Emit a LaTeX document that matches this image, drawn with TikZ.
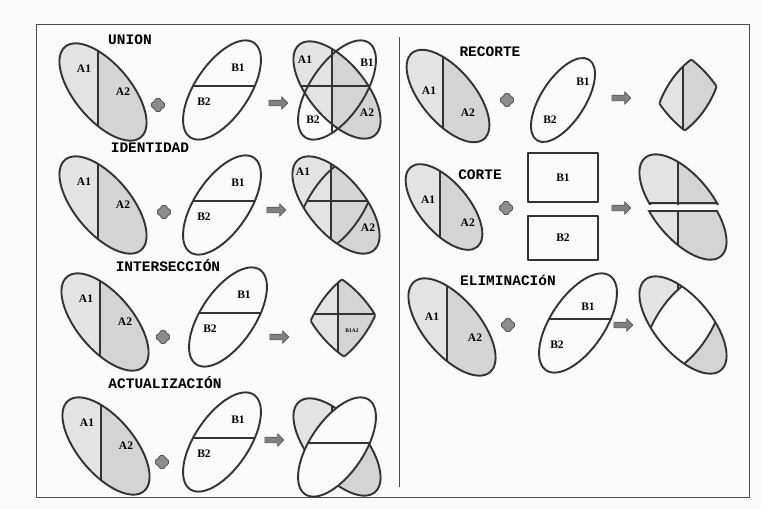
\documentclass[tikz,border=0pt]{standalone}
\usepackage{fontspec}
\setmainfont{Liberation Serif}
\newfontfamily\titlefont{Liberation Mono}
\usetikzlibrary{shapes.arrows}

\colorlet{paper}{gray!4}
\colorlet{shadeone}{gray!22}
\colorlet{shadetwo}{gray!34}

% layer outlines, centred on (0,0)
\newcommand{\ellA}{(0,0) ellipse [x radius=59pt, y radius=28pt, rotate=-50]}
\newcommand{\ellB}{(0,0) ellipse [x radius=57pt, y radius=27pt, rotate=56]}
\newcommand{\ellC}{(0,0) ellipse [x radius=48pt, y radius=22pt, rotate=57]}
\newcommand{\cutA}{(-5,-70) -- (-5,70)}
\newcommand{\cutB}{(-70,-4) -- (70,-4)}
\newcommand{\shadeA}{%
  \fill[shadeone] (-70,-70) rectangle (-5,70);
  \fill[shadetwo] (-5,-70) rectangle (70,70);}

% input layer A: [scale]{centre}{prefix}{A1 at}{A2 at}
\newcommand{\operandA}[5][1]{%
  \begin{scope}[shift={(#2)}, scale=#1]
    \begin{scope} \clip \ellA; \shadeA \draw[edge] \cutA; \end{scope}
    \draw[edge] \ellA;
    \node[lab] (#3A1) at (#4) {A1};
    \node[lab] (#3A2) at (#5) {A2};
  \end{scope}}
% input layer B: {centre}{prefix}{B1 at}{B2 at}
\newcommand{\operandB}[4]{%
  \begin{scope}[shift={(#1)}]
    \fill[paper] \ellB;
    \begin{scope} \clip \ellB; \draw[edge] \cutB; \end{scope}
    \draw[edge] \ellB;
    \node[lab] (#2B1) at (#3) {B1};
    \node[lab] (#2B2) at (#4) {B2};
  \end{scope}}

\begin{document}
\begin{tikzpicture}[x=1pt, y=-1pt, line join=round,
  edge/.style={line width=1.9pt, draw=black!80},
  frame/.style={line width=1pt, draw=black!70},
  lab/.style={font=\bfseries\fontsize{11.5}{12}\selectfont, inner sep=0pt},
  tinylab/.style={font=\bfseries\fontsize{5.5}{6}\selectfont, inner sep=0pt},
  title/.style={font=\titlefont\bfseries\fontsize{14.5}{16}\selectfont, inner sep=0pt},
  rectbox/.style={edge, fill=paper, minimum width=70pt, inner sep=0pt, font=\bfseries\fontsize{11.5}{12}\selectfont},
  arrowbox/.style={single arrow, fill=black!50, draw=black!65, line width=0.6pt,
    minimum height=19pt, inner sep=2.5pt, single arrow head extend=3.5pt},
  plus/.pic={\filldraw[fill=black!45, draw=black!65, line width=0.8pt, rounded corners=1.5pt]
    (-6.5,-3) -- (-3,-3) -- (-3,-6.5) -- (3,-6.5) -- (3,-3) -- (6.5,-3) -- (6.5,3)
    -- (3,3) -- (3,6.5) -- (-3,6.5) -- (-3,3) -- (-6.5,3) -- cycle;}]
\useasboundingbox (0,0) rectangle (761,509);
\fill[paper] (0,0) rectangle (761,509);
\draw[frame] (36,24) rectangle (749,497);
\draw[frame] (399,37) -- (399,487);

% UNION
\node[title] (tu) at (130,40) {UNION};
\operandA{103,92}{u}{-19,-23}{20,0}
\pic (uplus) at (158,105) {plus};
\operandB{222,90}{u}{16,-22}{-18,12}
\node[arrowbox] (uarr) at (277,103) {};
\begin{scope}[shift={(337,90)}]
  \fill[paper] \ellB;
  \begin{scope} \clip \ellA; \shadeA \end{scope}
  \begin{scope} \clip \ellA \ellB; \draw[edge] \cutA \cutB; \end{scope}
  \draw[edge] \ellA \ellB;
  \node[lab] (uRA1) at (-32,-30) {A1};
  \node[lab] (uRB1) at (30,-27) {B1};
  \node[lab] (uRB2) at (-24,30) {B2};
  \node[lab] (uRA2) at (30,23) {A2};
\end{scope}

% IDENTIDAD
\node[title] (ti) at (150,148) {IDENTIDAD};
\operandA{103,205}{i}{-19,-23}{20,0}
\pic (iplus) at (164,212) {plus};
\operandB{222,205}{i}{16,-22}{-18,12}
\node[arrowbox] (iarr) at (275,210) {};
\begin{scope}[shift={(336,205)}]
  \begin{scope}
    \clip \ellA; \shadeA
    \draw[edge] \cutA \ellB;
    \clip \ellB; \draw[edge] \cutB;
  \end{scope}
  \draw[edge] \ellA;
  \node[lab] (iRA1) at (-33,-33) {A1};
  \node[lab] (iRA2) at (32,23) {A2};
\end{scope}

% INTERSECCION
\node[title] (tn) at (168,266) {INTERSECCIÓN};
\operandA{105,322}{n}{-19,-23}{20,0}
\pic (nplus) at (163,337) {plus};
\operandB{228,317}{n}{16,-22}{-18,12}
\node[arrowbox] (narr) at (278,337) {};
\begin{scope}[shift={(343,318)}]
  \begin{scope} \clip \ellA; \clip \ellB; \shadeA \draw[edge] \cutA \cutB; \end{scope}
  \begin{scope} \clip \ellB; \draw[edge] \ellA; \end{scope}
  \begin{scope} \clip \ellA; \draw[edge] \ellB; \end{scope}
  \node[tinylab] (nRlab) at (9,13) {B1A2};
\end{scope}

% ACTUALIZACION
\node[title] (ta) at (165,383) {ACTUALIZACIÓN};
\operandA{106,446}{a}{-19,-23}{20,0}
\pic (aplus) at (162,462) {plus};
\operandB{222,442}{a}{16,-22}{-18,12}
\node[arrowbox] (aarr) at (273,440) {};
\begin{scope}[shift={(337,447)}]
  \begin{scope} \clip \ellA; \shadeA \draw[edge] \cutA; \end{scope}
  \draw[edge] \ellA;
  \fill[paper] \ellB;
  \begin{scope} \clip \ellB; \draw[edge] \cutB; \end{scope}
  \draw[edge] \ellB;
\end{scope}

% RECORTE
\node[title] (tr) at (490,52) {RECORTE};
\operandA[0.95]{448,96}{r}{-20,-6}{21,18}
\pic (rplus) at (507,100) {plus};
\begin{scope}[shift={(563,100)}]
  \fill[paper] \ellC;
  \draw[edge] \ellC;
  \node[lab] (rB1) at (20,-18) {B1};
  \node[lab] (rB2) at (-13,20) {B2};
\end{scope}
\node[arrowbox] (rarr) at (620,98) {};
\begin{scope}[shift={(688,95)}]
  \begin{scope} \clip \ellA; \clip \ellC; \shadeA \draw[edge] \cutA; \end{scope}
  \begin{scope} \clip \ellC; \draw[edge] \ellA; \end{scope}
  \begin{scope} \clip \ellA; \draw[edge] \ellC; \end{scope}
\end{scope}

% CORTE
\node[title] (tc) at (480,175) {CORTE};
\operandA[0.88]{444,207}{c}{-18,-8}{27,18}
\pic (cplus) at (506,208) {plus};
\node[rectbox, minimum height=49pt] (cB1) at (563,177.5) {B1};
\node[rectbox, minimum height=44pt] (cB2) at (563,238) {B2};
\node[arrowbox] (carr) at (620,208) {};
\begin{scope}[shift={(683,207)}]
  \begin{scope}[shift={(0,-4)}]
    \clip (-70,-70) rectangle (70,1);
    \begin{scope} \clip \ellA; \shadeA \draw[edge] \cutA (-70,0) -- (70,0); \end{scope}
    \draw[edge] \ellA;
  \end{scope}
  \begin{scope}[shift={(0,4)}]
    \clip (-70,-1) rectangle (70,70);
    \begin{scope} \clip \ellA; \shadeA \draw[edge] \cutA (-70,0) -- (70,0); \end{scope}
    \draw[edge] \ellA;
  \end{scope}
\end{scope}

% ELIMINACION
\node[title] (te) at (508,280) {ELIMINACIóN};
\operandA{452,327}{e}{-20,-10}{23,11}
\pic (eplus) at (508,325) {plus};
\operandB{578,323}{e}{10,-16}{-21,22}
\node[arrowbox] (earr) at (622,325) {};
\begin{scope}[shift={(683,325)}]
  \begin{scope}
    \clip \ellA; \shadeA \draw[edge] \cutA;
    \fill[paper] \ellB; \draw[edge] \ellB;
  \end{scope}
  \draw[edge] \ellA;
\end{scope}
\end{tikzpicture}
\end{document}
